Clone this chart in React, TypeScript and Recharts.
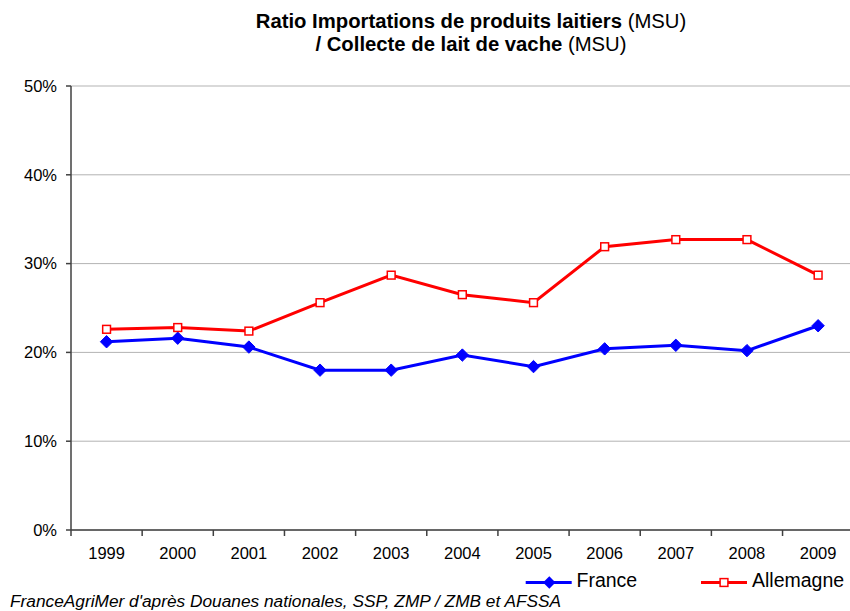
import React from "react";
import { LineChart, Line, XAxis, YAxis, CartesianGrid, Legend } from "recharts";

const years = ["1999", "2000", "2001", "2002", "2003", "2004", "2005", "2006", "2007", "2008", "2009"];
const france = [21.2, 21.6, 20.6, 18.0, 18.0, 19.7, 18.4, 20.4, 20.8, 20.2, 23.0];
const allemagne = [22.6, 22.8, 22.4, 25.6, 28.7, 26.5, 25.6, 31.9, 32.7, 32.7, 28.7];
const yTicks = [0, 10, 20, 30, 40, 50];

const data = years.map((y, i) => ({ year: y, France: france[i], Allemagne: allemagne[i] }));

const CHART_W = 862;
const CHART_H = 611;
const MARGIN = { top: 86, right: 8.3, left: 11, bottom: 51 };
const Y_W = 60;
const PLOT_W = CHART_W - MARGIN.left - MARGIN.right - Y_W;
const BAND = PLOT_W / years.length;
const FONT = "'Liberation Sans', Arial, sans-serif";

const XTick = (props: any) => {
  const { x, y, payload, index } = props;
  const bx = x - BAND / 2;
  return (
    <g key={`xt-${index}`}>
      <line x1={bx} y1={y} x2={bx} y2={y + 6} stroke="#404040" strokeWidth={1.5} />
      {index === years.length - 1 && (
        <line x1={x + BAND / 2} y1={y} x2={x + BAND / 2} y2={y + 6} stroke="#404040" strokeWidth={1.5} />
      )}
      <text x={x} y={y + 29} textAnchor="middle" fontSize={16.5} fontFamily={FONT} fill="#000">
        {payload.value}
      </text>
    </g>
  );
};

const Diamond = (props: any) => {
  const { cx, cy, index } = props;
  if (cx == null || cy == null) return <g key={`d-${index}`} />;
  const r = 6.2;
  return (
    <path
      key={`d-${index}`}
      d={`M${cx},${cy - r} L${cx + r},${cy} L${cx},${cy + r} L${cx - r},${cy} Z`}
      fill="#0000ff"
      stroke="#0000ff"
      strokeWidth={1}
    />
  );
};

const Square = (props: any) => {
  const { cx, cy, index } = props;
  if (cx == null || cy == null) return <g key={`s-${index}`} />;
  const h = 3.9;
  return (
    <rect key={`s-${index}`} x={cx - h} y={cy - h} width={h * 2} height={h * 2} fill="#ffffff" stroke="#ff0000" strokeWidth={1.5} />
  );
};

const LegendContent = () => (
  <svg width={340} height={30} style={{ display: "block" }}>
    <line x1={10.7} y1={14.5} x2={56.7} y2={14.5} stroke="#0000ff" strokeWidth={3} />
    <path d={`M34.3,${14.5 - 6.2} L${34.3 + 6.2},14.5 L34.3,${14.5 + 6.2} L${34.3 - 6.2},14.5 Z`} fill="#0000ff" />
    <text x={61.5} y={19} fontSize={19.5} fontFamily={FONT} fill="#000">France</text>
    <line x1={186} y1={14.5} x2={232} y2={14.5} stroke="#ff0000" strokeWidth={3} />
    <rect x={209 - 3.9} y={14.5 - 3.9} width={7.8} height={7.8} fill="#fff" stroke="#ff0000" strokeWidth={1.5} />
    <text x={237} y={19} fontSize={19.5} fontFamily={FONT} fill="#000">Allemagne</text>
  </svg>
);

export default function App() {
  return (
    <div style={{ position: "absolute", left: 0, top: 0, width: 850, height: 611, overflow: "hidden", background: "#fff", fontFamily: FONT }}>
      <div style={{ position: "absolute", left: 92, width: 758, top: 9.7, textAlign: "center", fontSize: 20.3, lineHeight: "23.4px", color: "#000", whiteSpace: "nowrap" }}>
        <div><b>Ratio Importations de produits laitiers</b> (MSU)</div>
        <div><b>/ Collecte de lait de vache</b> (MSU)</div>
      </div>
      <LineChart width={CHART_W} height={CHART_H} data={data} margin={MARGIN}>
        <CartesianGrid vertical={false} stroke="#b3b3b3" strokeWidth={1} />
        <XAxis
          dataKey="year"
          scale="band"
          height={30}
          tick={XTick}
          tickLine={false}
          tickSize={0}
          tickMargin={0}
          axisLine={{ stroke: "#404040", strokeWidth: 1.5 }}
          interval={0}
        />
        <YAxis
          width={Y_W}
          domain={[0, 50]}
          ticks={yTicks}
          tickFormatter={(v: number) => `${v}%`}
          tick={{ fontSize: 16.5, fill: "#000", fontFamily: FONT }}
          tickSize={5}
          tickMargin={9}
          tickLine={{ stroke: "#404040", strokeWidth: 1.5 }}
          axisLine={{ stroke: "#404040", strokeWidth: 1.5 }}
        />
        <Legend
          layout="horizontal"
          verticalAlign="middle"
          align="center"
          content={LegendContent}
          wrapperStyle={{ top: 568, left: 515, width: 340, height: 30 }}
        />
        <Line dataKey="France" stroke="#0000ff" strokeWidth={3} dot={Diamond} activeDot={false} isAnimationActive={false} />
        <Line dataKey="Allemagne" stroke="#ff0000" strokeWidth={3} dot={Square} activeDot={false} isAnimationActive={false} />
      </LineChart>
      <div style={{ position: "absolute", left: 10, top: 590.7, fontSize: 17.3, lineHeight: "20px", fontStyle: "italic", color: "#000", whiteSpace: "nowrap" }}>
        FranceAgriMer d'après Douanes nationales, SSP, ZMP / ZMB et AFSSA
      </div>
    </div>
  );
}
